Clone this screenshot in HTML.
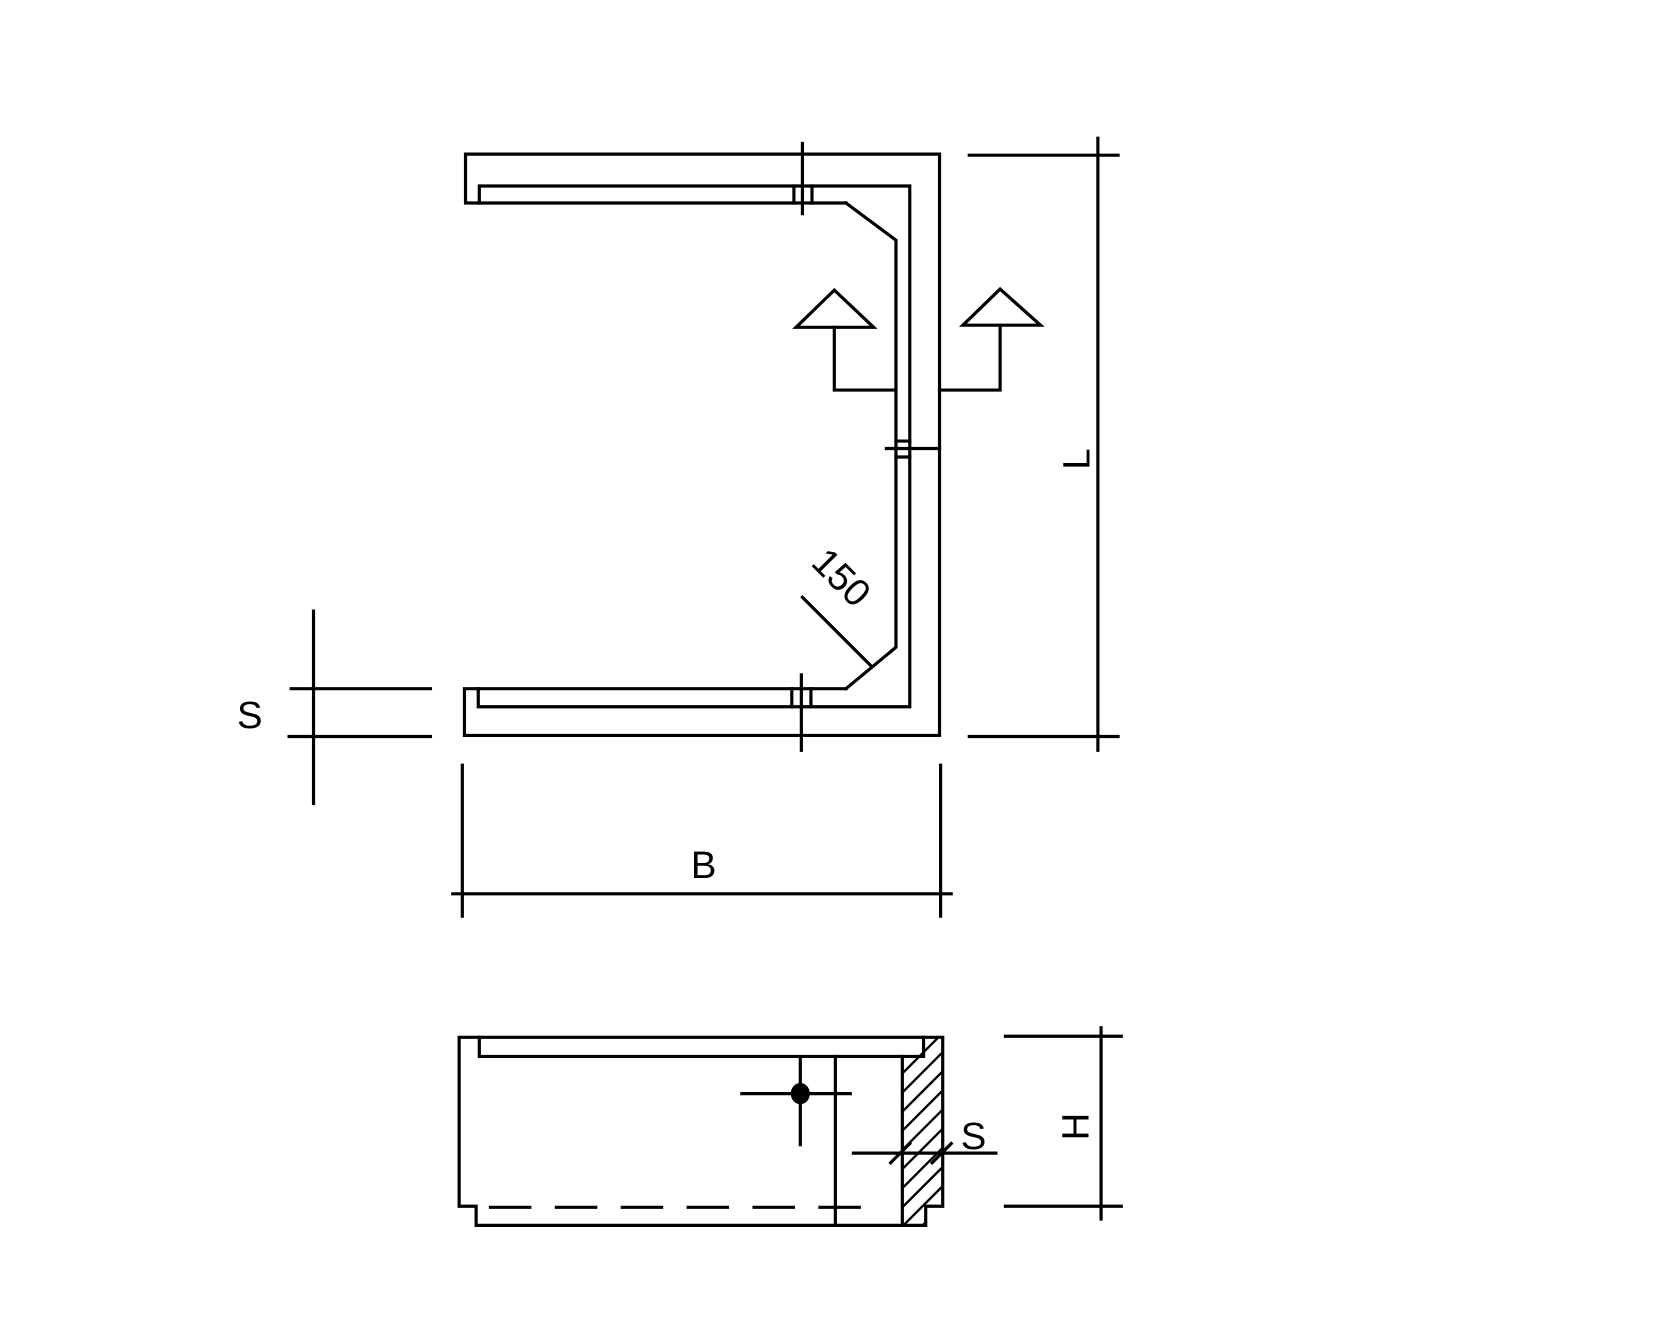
<!DOCTYPE html>
<html><head><meta charset="utf-8"><style>html,body{margin:0;padding:0;background:#fff}svg{display:block}</style></head>
<body>
<svg width="1665" height="1332" viewBox="0 0 1566.6 1253.3" preserveAspectRatio="none" xmlns="http://www.w3.org/2000/svg">
<defs>
<clipPath id="hc"><polygon points="849,976 887,976 887,1135 871,1135 871,1153 849,1153"/></clipPath>
</defs>
<g fill="none" stroke="#000" stroke-width="3" stroke-linecap="square">
<polyline points="796,191 438,191 438,145 884,145 884,692 437,692 437,648 796,648"/>
<polyline points="796,191 843,226 843,609 796,648"/>
<polyline points="451,191 451,175 856,175 856,665 450,665 450,648"/>
<line x1="755" y1="135" x2="755" y2="201"/>
<line x1="747" y1="175" x2="747" y2="191"/><line x1="764" y1="175" x2="764" y2="191"/>
<line x1="754" y1="635" x2="754" y2="706"/>
<line x1="745" y1="648" x2="745" y2="665"/><line x1="763" y1="648" x2="763" y2="665"/>
<line x1="834" y1="422" x2="884" y2="422"/>
<line x1="843" y1="415" x2="856" y2="415"/><line x1="843" y1="430" x2="856" y2="430"/>
<polygon points="785,273 749,308 822,308"/>
<polyline points="785,308 785,367 843,367"/>
<polygon points="941,272 906,306 979,306"/>
<polyline points="941,306 941,367 884,367"/>
<line x1="755" y1="562" x2="820" y2="627"/>
<line x1="1033" y1="130" x2="1033" y2="706"/>
<line x1="912" y1="146" x2="1052" y2="146"/>
<line x1="912" y1="693" x2="1052" y2="693"/>
<line x1="295" y1="575" x2="295" y2="756"/>
<line x1="274" y1="648" x2="405" y2="648"/>
<line x1="272" y1="693" x2="405" y2="693"/>
<line x1="435" y1="720" x2="435" y2="862"/>
<line x1="885" y1="720" x2="885" y2="862"/>
<line x1="426" y1="841" x2="895" y2="841"/>
<polyline points="432,976 887,976 887,1135 871,1135 871,1153 448,1153 448,1135 432,1135 432,976"/>
<polyline points="451,976 451,994 869,994 869,976"/>
<line x1="786" y1="994" x2="786" y2="1153"/>
<line x1="849" y1="994" x2="849" y2="1153"/>
<g clip-path="url(#hc)" stroke-width="2.2">
<line x1="849" y1="1010" x2="887" y2="972"/>
<line x1="849" y1="1028" x2="887" y2="990"/>
<line x1="849" y1="1046" x2="887" y2="1008"/>
<line x1="849" y1="1064" x2="887" y2="1026"/>
<line x1="849" y1="1082" x2="887" y2="1044"/>
<line x1="849" y1="1100" x2="887" y2="1062"/>
<line x1="849" y1="1118" x2="887" y2="1080"/>
<line x1="849" y1="1136" x2="887" y2="1098"/>
<line x1="849" y1="1154" x2="887" y2="1116"/>
<line x1="849" y1="1172" x2="887" y2="1134"/>
</g>
<line x1="698" y1="1029" x2="800" y2="1029"/>
<line x1="753" y1="997" x2="753" y2="1077"/>
<line x1="460" y1="1136" x2="815" y2="1136" stroke-dasharray="40,22" stroke-linecap="butt"/>
<line x1="803" y1="1085" x2="937" y2="1085"/>
<line x1="838" y1="1094" x2="856" y2="1076"/>
<line x1="877" y1="1094" x2="895" y2="1076"/>
<line x1="1036" y1="967" x2="1036" y2="1147"/>
<line x1="946" y1="975" x2="1055" y2="975"/>
<line x1="946" y1="1135" x2="1055" y2="1135"/>
</g>
<ellipse cx="753" cy="1029" rx="9" ry="10" fill="#000"/>
<g font-family="Liberation Sans, sans-serif" font-size="36" fill="#000">
<text x="235" y="685" text-anchor="middle">S</text>
<text x="662" y="826" text-anchor="middle">B</text>
<text x="916" y="1081" text-anchor="middle">S</text>
<text transform="translate(1025,432) rotate(-90)" text-anchor="middle">L</text>
<text transform="translate(1024,1060) rotate(-90)" text-anchor="middle">H</text>
<text transform="translate(783,552) rotate(45)" text-anchor="middle">150</text>
</g>
</svg>
</body></html>
